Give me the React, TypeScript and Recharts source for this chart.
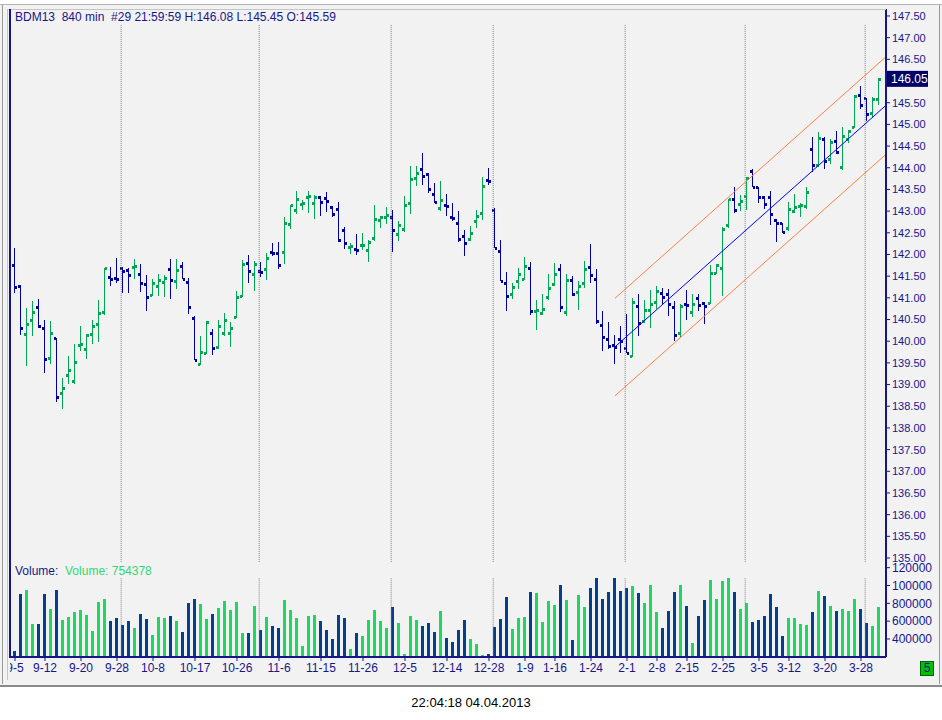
import React from 'react';
import { ComposedChart, Bar, XAxis, YAxis, ReferenceLine } from 'recharts';

// BDM13, 840 min bars, 5 Sep 2012 - 4 Apr 2013
const opens = [
  141.75, 141.27, 140.16, 140.5, 140.78, 140.3, 139.61, 140.07, 138.8, 139.21,
  139.08, 139.91, 139.81, 140.16, 140.39, 140.67, 141.47, 141.45, 141.68, 141.64,
  141.72, 141.54, 141.31, 141.06, 141.27, 141.37, 141.66, 141.38, 141.73, 141.36,
  140.53, 139.47, 139.72, 140.2, 139.86, 140.18, 140.18, 140.55, 141.04, 141.8,
  141.54, 141.61, 141.66, 142.06, 142.03, 142.05, 142.7, 143.03, 143.17, 143.32,
  143.18, 143.32, 143.3, 143.09, 143.04, 142.56, 142.17, 142.12, 142.21, 142.1,
  142.37, 142.79, 142.86, 142.86, 142.47, 142.59, 143.19, 143.76, 143.96, 143.85,
  143.4, 143.07, 143.14, 142.86, 142.72, 142.42, 142.35, 142.77, 142.96, 143.72,
  143.02, 142.08, 141.34, 141.1, 141.39, 141.43, 141.68, 140.7, 140.64, 141.01,
  141.31, 141.67, 140.67, 141.4, 141.13, 141.34, 141.7, 141.43, 140.37, 140.04,
  139.92, 140.04, 139.84, 139.65, 140.81, 140.46, 140.72, 140.9, 141.11, 141.08,
  140.8, 140.18, 140.86, 140.67, 141.0, 140.87, 140.87, 141.57, 141.68, 142.67,
  143.27, 143.16, 143.35, 143.93, 143.55, 143.33, 143.33, 142.8, 142.72, 142.6,
  143.01, 143.12, 143.12, 144.43, 144.06, 144.66, 144.2, 144.61, 144.01, 144.66,
  144.93, 145.68, 145.6, 145.26, 145.59,
];
const highs = [
  142.14, 141.3, 140.76, 140.93, 140.97, 140.49, 140.47, 140.08, 139.14, 139.66,
  139.94, 140.35, 140.17, 140.49, 140.94, 141.68, 141.71, 141.93, 141.72, 141.68,
  141.9, 141.78, 141.53, 141.43, 141.55, 141.53, 141.9, 141.9, 141.82, 141.45,
  140.57, 140.11, 140.47, 140.28, 140.49, 140.65, 140.44, 141.16, 141.87, 141.99,
  141.85, 141.82, 142.03, 142.26, 142.28, 142.86, 143.13, 143.46, 143.26, 143.46,
  143.37, 143.35, 143.44, 143.12, 143.21, 142.63, 142.26, 142.47, 142.49, 142.33,
  143.14, 142.89, 143.1, 143.03, 142.77, 143.35, 144.04, 144.04, 144.33, 143.87,
  143.64, 143.69, 143.4, 143.19, 143.0, 142.56, 142.66, 143.03, 143.79, 143.99,
  143.07, 142.33, 141.6, 141.34, 141.69, 141.94, 141.83, 140.95, 141.1, 141.55,
  141.81, 141.78, 141.55, 141.5, 141.39, 141.85, 142.24, 141.67, 140.7, 140.44,
  140.14, 140.36, 140.63, 141.0, 141.09, 140.95, 141.18, 141.27, 141.23, 141.21,
  140.93, 140.85, 141.17, 141.08, 141.09, 140.9, 141.76, 141.77, 142.63, 143.27,
  143.55, 143.37, 143.79, 143.96, 143.56, 143.35, 143.46, 142.81, 142.73, 143.22,
  143.39, 143.19, 143.55, 144.7, 144.82, 144.72, 144.66, 144.85, 144.95, 144.87,
  145.68, 145.89, 145.62, 145.64, 146.08,
];
const lows = [
  141.1, 140.14, 139.43, 140.13, 140.31, 139.26, 139.48, 138.6, 138.42, 139.02,
  139.01, 139.78, 139.6, 139.94, 139.97, 140.6, 141.28, 141.35, 141.12, 141.1,
  141.45, 141.13, 140.7, 141.04, 141.05, 141.02, 140.97, 141.21, 141.42, 140.63,
  139.56, 139.43, 139.7, 139.67, 139.83, 140.13, 139.87, 140.53, 141.01, 141.35,
  141.16, 141.47, 141.4, 141.96, 141.65, 141.77, 142.57, 142.94, 143.03, 142.96,
  142.82, 142.89, 142.99, 142.87, 142.29, 142.13, 142.01, 141.99, 142.1, 141.83,
  142.32, 142.62, 142.7, 142.06, 142.32, 142.53, 142.93, 143.59, 143.59, 143.41,
  143.17, 142.99, 142.89, 142.77, 142.29, 141.97, 142.32, 142.62, 142.8, 143.59,
  142.14, 141.38, 140.7, 140.97, 141.2, 141.4, 140.61, 140.26, 140.61, 140.95,
  141.27, 140.67, 140.57, 141.03, 140.72, 141.23, 141.35, 140.41, 139.77, 139.81,
  139.47, 139.73, 139.72, 139.64, 140.12, 140.43, 140.31, 140.74, 140.87, 140.59,
  140.01, 140.06, 140.47, 140.56, 140.7, 140.4, 140.85, 141.54, 141.03, 142.6,
  142.96, 142.99, 143.03, 143.55, 143.18, 143.04, 142.68, 142.29, 142.49, 142.55,
  142.96, 142.86, 143.04, 143.89, 144.01, 143.98, 144.09, 144.33, 143.95, 144.56,
  144.91, 145.37, 145.1, 145.16, 145.45,
];
const closes = [
  141.24, 140.3, 140.39, 140.67, 140.34, 139.58, 140.18, 138.71, 138.91, 139.33,
  139.51, 139.93, 140.14, 140.35, 140.64, 141.68, 141.43, 141.43, 141.62, 141.52,
  141.74, 141.34, 141.01, 141.34, 141.4, 141.45, 141.4, 141.64, 141.43, 140.78,
  139.56, 139.74, 140.44, 139.84, 140.34, 140.48, 140.3, 141.01, 141.77, 141.61,
  141.77, 141.59, 141.91, 142.03, 141.76, 142.72, 143.13, 143.28, 143.19, 143.35,
  143.32, 143.2, 143.23, 142.93, 142.33, 142.26, 142.2, 142.1, 142.23, 142.28,
  142.82, 142.86, 142.91, 142.56, 142.68, 143.14, 143.74, 143.87, 143.8, 143.51,
  143.2, 143.25, 143.12, 142.83, 142.35, 142.26, 142.49, 142.88, 143.57, 143.69,
  142.14, 141.38, 141.04, 141.24, 141.54, 141.73, 140.69, 140.72, 140.74, 141.22,
  141.54, 140.78, 141.4, 141.1, 141.27, 141.67, 141.52, 140.46, 140.09, 139.9,
  139.87, 140.0, 139.73, 140.9, 140.41, 140.72, 140.86, 141.16, 141.01, 140.86,
  140.14, 140.81, 140.83, 140.85, 140.84, 140.81, 141.57, 141.75, 142.59, 143.27,
  143.02, 143.23, 143.76, 143.55, 143.33, 143.16, 142.93, 142.72, 142.51, 143.05,
  143.09, 143.14, 143.43, 144.06, 144.69, 144.16, 144.59, 144.37, 144.73, 144.85,
  145.66, 145.45, 145.24, 145.58, 146.05,
];
const volumes = [
  265500, 904700, 953300, 568300, 568300, 904700, 736500, 953300, 613100, 646800,
  702800, 725300, 669200, 489800, 815000, 852400, 601900, 635600, 557100, 601900,
  523400, 680400, 624300, 444900, 646800, 635600, 658000, 601900, 478600, 803800,
  848600, 792600, 624300, 680400, 747700, 826200, 725300, 815000, 467300, 467300,
  770100, 501000, 646800, 545900, 523400, 837400, 725300, 635600, 321600, 658000,
  669200, 601900, 501000, 400100, 669200, 635600, 287900, 467300, 433700, 613100,
  725300, 601900, 523400, 758900, 579500, 231900, 658000, 613100, 545900, 579500,
  478600, 714100, 411300, 366400, 501000, 613100, 400100, 344000, 220600, 231900,
  534600, 624300, 871100, 512200, 635600, 646800, 927100, 915900, 590700, 826200,
  781300, 1005600, 837400, 388900, 893500, 758900, 971900, 1084100, 848600, 927100,
  1084100, 938300, 971900, 994400, 915900, 803800, 1005600, 702800, 523400, 714100,
  927100, 1005600, 770100, 355200, 658000, 837400, 1061700, 848600, 1050500, 1084100,
  927100, 736500, 803800, 590700, 613100, 658000, 904700, 758900, 433700, 635600,
  635600, 568300, 557100, 702800, 938300, 882300, 770100, 714100, 736500, 714100,
  848600, 736500, 579500, 545900, 754378,
];

const tickBars = [0, 5, 11, 17, 23, 30, 37, 44, 51, 58, 65, 72, 79, 85, 90, 96, 102, 107, 112, 118, 124, 129, 135, 141];
const tickDates = ['9-5', '9-12', '9-20', '9-28', '10-8', '10-17', '10-26', '11-6', '11-15', '11-26', '12-5', '12-14',
  '12-28', '1-9', '1-16', '1-24', '2-1', '2-8', '2-15', '2-25', '3-5', '3-12', '3-20', '3-28'];
const monthStarts = [18, 41, 63, 80, 102, 122, 142];

const priceTicks = [135, 135.5, 136, 136.5, 137, 137.5, 138, 138.5, 139, 139.5, 140, 140.5, 141,
  141.5, 142, 142.5, 143, 143.5, 144, 144.5, 145, 145.5, 146, 146.5, 147, 147.5];
const volumeTicks = [400000, 600000, 800000, 1000000, 1200000];
const volumeTickLabels = ['400000', '600000', '800000', '100000', '120000'];

// regression channel, from bar 100 to bar 145
const channelBars = [100, 145];
const channelMid = [139.87, 145.42];
const channelUpper = [140.99, 146.54];
const channelLower = [138.74, 144.29];

const NAVY = '#16168a';
const UP = '#00a651';
const DOWN = '#0000a0';
const VOL_UP = '#1ed760';
const VOL_DOWN = '#023f8c';
const FONT = '"Liberation Sans", Arial, sans-serif';

const xDomain = [-0.833, 145.167];
const priceDomain = [134.908, 147.661];
const volumeDomain = [198200, 1263500];

const bars = opens.map((open, i) => ({
  i,
  open,
  high: highs[i],
  low: lows[i],
  close: closes[i],
  range: [lows[i], highs[i]],
  volume: volumes[i],
}));

function OhlcBar(props: any) {
  const { x, y, width, height, payload } = props;
  const top = Math.min(y, y + height);
  const h = Math.abs(height);
  const span = payload.high - payload.low;
  const k = span > 0 ? h / span : 0;
  const cx = Math.round(x + width / 2);
  const yo = Math.round(top + (payload.high - payload.open) * k);
  const yc = Math.round(top + (payload.high - payload.close) * k);
  const color = payload.close >= payload.open ? UP : DOWN;
  return (
    <g shapeRendering="crispEdges">
      <rect x={cx} y={Math.round(top)} width={1} height={Math.max(Math.round(h), 1)} fill={color} />
      <rect x={cx - 2} y={yo - 1} width={2} height={3} fill={color} />
      <rect x={cx + 1} y={yc - 1} width={2} height={3} fill={color} />
    </g>
  );
}

function VolumeBar(props: any) {
  const { x, y, width, height, payload } = props;
  const cx = Math.round(x + width / 2);
  const color = payload.close >= payload.open ? VOL_UP : VOL_DOWN;
  return <rect x={cx - 1} y={y} width={3} height={height} fill={color} shapeRendering="crispEdges" />;
}

function PriceTag(props: any) {
  const { viewBox, value } = props;
  if (!viewBox) return null;
  const left = viewBox.x + viewBox.width + 1;
  return (
    <g>
      <rect x={left} y={viewBox.y - 8} width={41} height={16} fill="#000066" />
      <text x={left + 4} y={viewBox.y + 4} fill="#ffffff" fontSize={12} fontFamily={FONT}>
        {value.toFixed(2)}
      </text>
    </g>
  );
}

const dateOf = (v: number) => {
  const k = tickBars.indexOf(v);
  return k >= 0 ? tickDates[k] : '';
};
const volumeLabel = (v: number) => {
  const k = volumeTicks.indexOf(v);
  return k >= 0 ? volumeTickLabels[k] : String(v);
};

export default function App() {
  const last = bars[bars.length - 1];
  return (
    <div style={{ position: 'absolute', left: 0, top: 0, width: 942, height: 720, background: '#ffffff', fontFamily: FONT, overflow: 'hidden' }}>
      <div style={{ position: 'absolute', left: 0, top: 4, width: 942, height: 680, background: '#f2f2f2', borderTop: '1px solid #b4b4b4', borderBottom: '2px solid #8a8a8a' }} />

      <div style={{ position: 'absolute', left: 10, top: 9 }}>
        <ComposedChart width={932} height={553} data={bars} margin={{ top: 0, right: 0, bottom: 0, left: 0 }} style={{ overflow: 'visible' }}>
          <XAxis dataKey="i" type="number" domain={xDomain} allowDataOverflow hide />
          <YAxis
            orientation="right"
            width={56}
            domain={priceDomain}
            allowDataOverflow
            ticks={priceTicks}
            interval={0}
            tickFormatter={(v: number) => v.toFixed(2)}
            tickSize={4}
            axisLine={{ stroke: NAVY, strokeWidth: 2 }}
            tickLine={{ stroke: NAVY }}
            tick={{ fill: NAVY, fontSize: 11, fontFamily: FONT }}
          />
          {monthStarts.map((m) => (
            <ReferenceLine
              key={m}
              segment={[{ x: m - 0.3, y: 147.29 }, { x: m - 0.3, y: priceDomain[0] }]}
              stroke="#808080"
              strokeDasharray="1 1"
            />
          ))}
          <Bar dataKey="range" barSize={5} shape={<OhlcBar />} isAnimationActive={false} />
          <ReferenceLine
            segment={[{ x: channelBars[0], y: channelUpper[0] }, { x: channelBars[1], y: channelUpper[1] }]}
            stroke="#ff7f40"
          />
          <ReferenceLine
            segment={[{ x: channelBars[0], y: channelMid[0] }, { x: channelBars[1], y: channelMid[1] }]}
            stroke="#0000ff"
          />
          <ReferenceLine
            segment={[{ x: channelBars[0], y: channelLower[0] }, { x: channelBars[1], y: channelLower[1] }]}
            stroke="#ff7f40"
          />
        </ComposedChart>
      </div>

      <div style={{ position: 'absolute', left: 10, top: 562 }}>
        <ComposedChart width={932} height={119} data={bars} margin={{ top: 0, right: 0, bottom: 0, left: 0 }}>
          <XAxis
            dataKey="i"
            type="number"
            domain={xDomain}
            allowDataOverflow
            ticks={tickBars}
            interval={0}
            tickFormatter={dateOf}
            height={24}
            tickSize={4}
            axisLine={{ stroke: NAVY, strokeWidth: 2 }}
            tickLine={{ stroke: NAVY }}
            tick={{ fill: NAVY, fontSize: 12, fontFamily: FONT }}
          />
          <YAxis
            orientation="right"
            width={56}
            domain={volumeDomain}
            allowDataOverflow
            ticks={volumeTicks}
            interval={0}
            tickFormatter={volumeLabel}
            tickSize={4}
            axisLine={{ stroke: NAVY, strokeWidth: 2 }}
            tickLine={{ stroke: NAVY }}
            tick={{ fill: NAVY, fontSize: 12, fontFamily: FONT }}
          />
          {monthStarts.map((m) => (
            <ReferenceLine
              key={m}
              segment={[{ x: m - 0.3, y: 1080000 }, { x: m - 0.3, y: volumeDomain[0] }]}
              stroke="#808080"
              strokeDasharray="1 1"
            />
          ))}
          <Bar dataKey="volume" barSize={3} shape={<VolumeBar />} isAnimationActive={false} />
        </ComposedChart>
      </div>

      {/* last-price tag, drawn over the price axis */}
      <div style={{ position: 'absolute', left: 10, top: 9, pointerEvents: 'none' }}>
        <ComposedChart width={932} height={553} data={bars} margin={{ top: 0, right: 0, bottom: 0, left: 0 }} style={{ overflow: 'visible' }}>
          <XAxis dataKey="i" type="number" domain={xDomain} allowDataOverflow hide />
          <YAxis orientation="right" width={56} domain={priceDomain} allowDataOverflow tick={false} tickLine={false} axisLine={false} />
          <ReferenceLine y={last.close} stroke="none" label={<PriceTag value={last.close} />} />
        </ComposedChart>
      </div>

      {/* window frame */}
      <div style={{ position: 'absolute', left: 0, top: 5, width: 9, height: 679, background: '#f2f2f2' }} />
      <div style={{ position: 'absolute', left: 2, top: 5, width: 1, height: 679, background: '#9a9a9a' }} />
      <div style={{ position: 'absolute', left: 7, top: 9, width: 1, height: 671, background: '#c4c4c4' }} />
      <div style={{ position: 'absolute', left: 8, top: 9, width: 878, height: 1, background: '#c4c4c4' }} />
      <div style={{ position: 'absolute', left: 9, top: 9, width: 2, height: 649, background: NAVY }} />
      <div style={{ position: 'absolute', left: 939, top: 5, width: 1, height: 679, background: '#9a9a9a' }} />

      <div style={{ position: 'absolute', left: 15, top: 10, fontSize: 12, lineHeight: '14px', color: NAVY, whiteSpace: 'pre' }}>
        {'BDM13  840 min  #29 21:59:59 H:' + last.high.toFixed(2) + ' L:' + last.low.toFixed(2) + ' O:' + last.open.toFixed(2)}
      </div>
      <div style={{ position: 'absolute', left: 15, top: 564, fontSize: 12, lineHeight: '14px', whiteSpace: 'pre' }}>
        <span style={{ color: NAVY }}>Volume:  </span>
        <span style={{ color: '#2fd873' }}>{'Volume: ' + last.volume}</span>
      </div>

      <div style={{ position: 'absolute', left: 920, top: 661, width: 14, height: 15, background: '#00c000', border: '1px solid #006000', boxSizing: 'border-box', color: NAVY, fontSize: 12, lineHeight: '13px', textAlign: 'center' }}>5</div>

      <div style={{ position: 'absolute', left: 0, top: 695, width: 942, textAlign: 'center', fontSize: 13, lineHeight: '16px', color: '#000000' }}>
        22:04:18 04.04.2013
      </div>
    </div>
  );
}
